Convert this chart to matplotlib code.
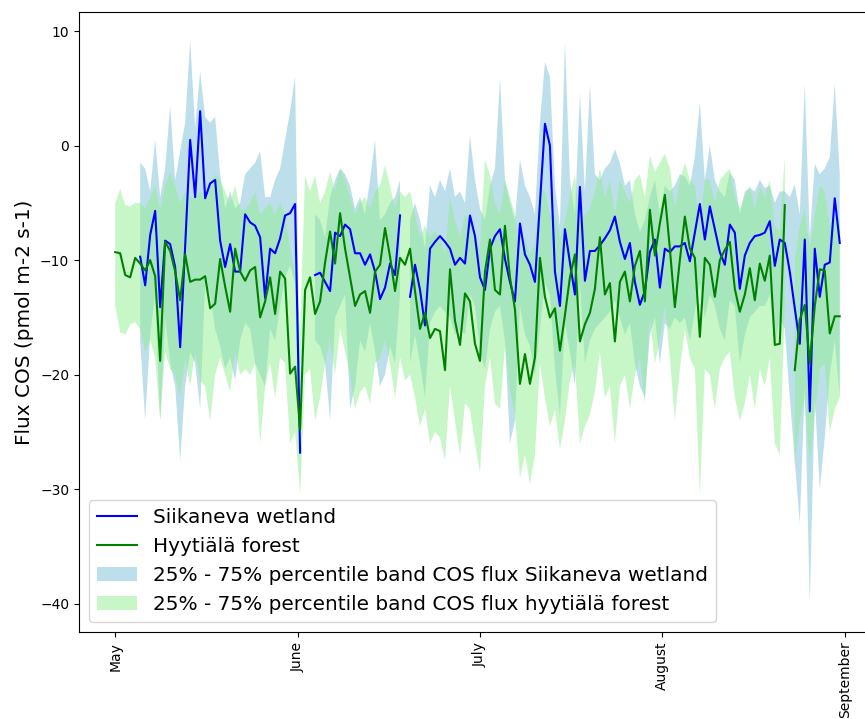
import numpy as np
import matplotlib
matplotlib.use("Agg")
import matplotlib.pyplot as plt

nan = np.nan

# Daily median COS flux (pmol m-2 s-1), Siikaneva wetland
siikaneva = [
    nan, nan, nan, nan, nan, -9.7, -12.2, -7.8, -5.7, -14.1,
    -8.3, -8.6, -10.6, -17.6, -8.8, 0.5, -4.5, 3.0, -4.6, -3.3,
    -3.0, -8.3, -10.6, -8.6, -11.0, -11.0, -6.0, -6.7, -7.0, -8.0,
    -13.3, -9.0, -9.4, -8.1, -6.1, -5.9, -5.1, -26.8, nan, nan,
    -11.3, -11.1, -11.9, -12.7, -7.6, -7.9, -6.9, -7.3, -9.4, -9.4,
    -10.4, -9.5, -11.0, -13.4, -12.4, -10.3, -11.3, -6.1, nan, -13.2,
    -10.4, -12.6, -15.7, -9.0, -8.4, -7.9, -8.4, -9.0, -10.4, -9.8,
    -10.3, -6.1, -7.9, -11.5, -12.6, -9.0, -7.9, -7.3, -9.9, -11.9,
    -13.6, -6.8, -9.5, -10.4, -11.9, -5.0, 1.9, 0.0, -11.0, -14.0,
    -7.3, -10.2, -13.0, -3.6, -11.8, -9.2, -9.2, -8.7, -8.1, -7.4,
    -6.2, -8.4, -9.9, -8.5, -11.9, -13.9, -12.7, -9.3, -8.2, -12.4,
    -9.0, -9.3, -8.8, -8.8, -8.5, -10.1, -7.6, -5.1, -8.2, -5.3,
    -7.3, -9.3, -10.4, -6.9, -7.6, -12.5, -9.6, -8.5, -7.9, -7.8,
    -7.6, -6.6, -10.5, -8.2, -8.5, -11.0, -14.2, -17.3, -8.2, -23.2,
    -9.0, -13.2, -10.4, -10.2, -4.6, -8.5,
]
siikaneva_q75 = [
    nan, nan, nan, nan, nan, -1.5, -2.0, -4.0, 0.5, -4.5,
    -2.0, 3.5, -3.0, -0.5, 2.0, 9.2, 1.5, 6.5, 2.5, 2.0,
    2.5, -2.5, -5.5, -4.0, -5.5, -5.0, -2.5, -2.0, -1.5, -0.5,
    -4.5, -4.5, -3.0, -2.0, 0.5, 3.0, 6.0, -22.0, nan, nan,
    -6.0, -6.5, -8.0, -4.5, -3.0, -2.0, -2.5, -3.5, -5.5, -4.5,
    -6.0, -3.0, 0.5, -6.5, -6.0, -5.0, -4.5, -3.0, nan, -6.5,
    -5.0, -6.5, -9.0, -3.5, -4.5, -3.0, -4.0, -2.0, -4.5, -4.0,
    -5.0, 0.9, -3.0, -5.5, -6.5, -3.5, -2.0, 5.9, -3.0, -5.0,
    -6.5, -1.2, -3.5, -4.5, -6.0, 2.0, 7.3, 6.0, -3.5, -7.0,
    9.1, -3.0, -6.0, 4.6, -4.0, 5.3, -2.5, -3.0, -2.0, -1.5,
    -0.3, -1.5, -3.5, -3.0, -6.0, -7.5, -6.5, -4.5, -3.0, -6.0,
    -3.5, -4.0, -3.5, -2.5, -2.7, -3.5, -1.0, 3.8, -3.0, 0.0,
    -3.0, -4.0, -4.5, -2.3, -3.0, -6.0, -4.0, -3.7, -4.0, -3.0,
    -3.7, -3.5, -5.0, -4.0, -4.0, -4.5, -3.4, -6.0, 5.4, -8.0,
    -1.6, -2.5, -2.0, -1.0, 5.4, -2.5,
]
siikaneva_q25 = [
    nan, nan, nan, nan, nan, -17.0, -24.0, -16.5, -13.0, -24.0,
    -15.0, -19.0, -21.0, -27.5, -21.0, -18.0, -19.0, -23.0, -12.0, -13.0,
    -16.0, -17.5, -19.5, -18.5, -20.5, -17.0, -15.5, -16.0, -19.0, -20.0,
    -21.0, -16.0, -17.0, -14.0, -11.5, -10.5, -12.0, -29.0, nan, nan,
    -17.0, -17.5, -19.0, -24.0, -15.0, -14.0, -13.0, -23.0, -21.0, -17.0,
    -18.0, -15.5, -18.0, -21.0, -20.0, -17.5, -19.0, -13.0, nan, -19.0,
    -16.5, -19.0, -22.0, -15.5, -14.5, -14.0, -14.5, -15.0, -16.5, -16.0,
    -16.5, -13.0, -14.0, -18.0, -19.5, -16.0, -14.5, -14.0, -17.0, -26.0,
    -24.0, -14.0, -16.5, -17.5, -20.0, -16.0, -12.0, -13.0, -19.5, -23.5,
    -15.5, -18.0, -21.0, -12.0, -19.0, -17.0, -16.0, -15.5, -15.0, -14.5,
    -13.5, -15.0, -16.5, -15.5, -19.0, -21.0, -22.0, -16.5, -15.0, -19.0,
    -15.5, -16.0, -15.0, -15.5, -15.0, -17.0, -14.5, -12.0, -15.0, -13.0,
    -14.0, -16.0, -17.0, -13.5, -14.0, -19.0, -16.5, -15.0, -14.5, -14.0,
    -14.0, -13.0, -17.5, -15.0, -16.0, -22.0, -27.5, -33.0, -21.0, -40.0,
    -22.0, -30.0, -25.5, -20.0, -17.0, -22.0,
]

# Daily median COS flux (pmol m-2 s-1), Hyytiälä forest
hyytiala = [
    -9.3, -9.4, -11.3, -11.5, -9.8, -10.3, -10.9, -10.0, -11.4, -18.8,
    -8.4, -9.2, -11.0, -13.5, -9.5, -11.9, -11.7, -11.7, -11.4, -14.2,
    -13.8, -9.9, -12.3, -14.5, -9.0, -11.0, -11.8, -10.9, -10.6, -15.0,
    -13.6, -11.5, -14.7, -11.0, -11.6, -19.9, -19.3, -24.8, -12.6, -11.5,
    -14.7, -13.6, -10.2, -7.5, -10.3, -5.9, -9.0, -11.5, -14.0, -13.0,
    -12.7, -14.6, -11.0, -10.4, -7.2, -9.7, -12.7, -9.8, -10.4, -9.0,
    -12.7, -16.0, -14.6, -16.8, -16.0, -16.2, -19.6, -10.8, -15.3, -17.4,
    -12.9, -13.6, -17.3, -18.8, -11.0, -8.2, -12.6, -13.0, -7.0, -11.5,
    -14.3, -20.8, -18.2, -20.8, -18.5, -9.8, -13.2, -15.0, -14.2, -17.9,
    -14.8, -11.5, -9.5, -17.1, -15.6, -14.6, -12.5, -8.0, -13.0, -12.0,
    -17.1, -11.9, -11.0, -13.6, -10.5, -9.2, -13.6, -5.6, -9.6, -6.8,
    -4.3, -9.0, -14.1, -10.0, -6.2, -9.0, -9.8, -16.7, -9.8, -10.4,
    -13.2, -10.0, -9.1, -8.4, -12.5, -14.5, -13.0, -10.7, -13.5, -10.3,
    -11.8, -9.6, -17.4, -17.3, -5.2, nan, -19.6, -15.2, -13.9, -19.0,
    -14.0, -10.8, -10.9, -16.4, -14.9, -14.9,
]
hyytiala_q75 = [
    -5.0, -3.8, -5.2, -5.3, -5.0, -5.0, -5.5, -4.5, -3.5, -5.5,
    -3.5, -2.3, -3.5, -5.0, -4.0, -4.5, -4.5, -4.0, -4.5, -3.5,
    -2.5, -3.0, -4.0, -5.0, -3.5, -5.5, -5.6, -5.0, -4.0, -6.0,
    -5.5, -5.0, -6.0, -5.0, -6.0, -9.0, -11.0, -16.0, -2.6, -4.0,
    -2.6, -5.0, -4.0, -2.3, -4.0, -2.0, -3.0, -4.5, -6.0, -5.0,
    -4.5, -5.5, -4.0, -3.5, -1.7, -3.5, -5.5, -4.0, -4.5, -4.0,
    -6.0, -8.0, -7.0, -8.0, -7.5, -8.0, -9.5, -4.5, -6.5, -8.0,
    -6.0, -6.5, -8.0, -9.0, -1.2, -2.6, -5.0, -6.0, -3.0, -4.5,
    -6.0, -9.5, -8.0, -9.5, -8.5, -3.5, -4.0, -6.0, -6.0, -8.0,
    -6.5, -4.5, -2.5, -7.0, -6.0, -5.5, -4.0, -2.0, -4.5, -3.0,
    -6.0, -3.0, -4.0, -5.0, -3.0, -2.5, -4.5, -0.9, -2.3, -1.5,
    -0.7, -2.0, -5.5, -3.0, -1.5, -3.0, -3.5, -7.0, -3.0, -3.0,
    -5.0, -3.0, -2.5, -2.0, -4.5, -5.5, -4.5, -3.5, -5.5, -3.5,
    -4.5, -3.0, -7.0, -7.5, -1.0, nan, -10.0, -7.0, -5.5, -9.0,
    -6.0, -3.5, -4.0, -7.0, -6.0, -6.5,
]
hyytiala_q25 = [
    -14.0, -16.3, -16.5, -15.6, -15.4, -16.0, -18.0, -17.0, -18.5, -24.0,
    -18.0, -19.5, -20.0, -22.0, -18.5, -21.0, -18.0, -20.5, -21.0, -24.0,
    -20.0, -18.5, -20.0, -21.5, -18.0, -20.0, -19.5, -20.0, -19.0, -26.0,
    -21.0, -19.0, -22.0, -18.5, -19.0, -26.0, -25.0, -30.5, -20.0, -19.5,
    -24.0, -22.0, -19.0, -17.0, -20.0, -16.0, -18.0, -20.0, -23.0, -21.5,
    -21.0, -22.5, -19.0, -18.5, -17.0, -19.0, -22.0, -18.5, -20.5, -20.0,
    -22.0, -24.5, -23.0, -26.0, -25.0, -25.5, -27.5, -21.0, -24.0, -27.0,
    -22.5, -23.0, -26.0, -28.5, -21.0, -18.5, -22.5, -23.0, -17.5, -21.5,
    -23.5, -29.0, -27.0, -29.5, -27.0, -19.0, -22.0, -24.5, -23.0, -26.5,
    -24.0, -20.5, -19.0, -26.0, -24.5, -23.5, -21.5, -18.0, -22.0, -21.0,
    -26.0, -21.0, -20.0, -23.0, -20.0, -18.5, -22.5, -15.0, -19.0, -17.0,
    -14.0, -18.5, -24.0, -19.5, -16.0, -18.5, -19.5, -30.5, -19.5, -20.0,
    -23.0, -19.5, -18.5, -18.0, -22.0, -24.0, -22.5, -20.0, -23.0, -19.5,
    -21.0, -18.5, -26.0, -27.0, -14.0, nan, -28.0, -24.0, -22.0, -28.0,
    -23.5, -19.5, -19.0, -25.0, -23.0, -22.0,
]

month_labels = ["May", "June", "July", "August", "September"]

step = np.arange(len(siikaneva))

fig = plt.figure(figsize=(8.65, 7.19), dpi=100)
ax = fig.add_axes([0.0913, 0.121, 0.9214, 0.8623])

ax.plot(step, siikaneva, color="blue", lw=1.5, label="Siikaneva wetland")
ax.plot(step, hyytiala, color="green", lw=1.5, label="Hyytiälä forest")
ax.fill_between(step, siikaneva_q25, siikaneva_q75, color="lightblue", alpha=0.8,
                lw=0, label="25% - 75% percentile band COS flux Siikaneva wetland")
ax.fill_between(step, hyytiala_q25, hyytiala_q75, color="lightgreen", alpha=0.5,
                lw=0, label="25% - 75% percentile band COS flux hyytiälä forest")

ax.set_xticks(np.linspace(0, len(step), len(month_labels)))
ax.set_xticklabels(month_labels, rotation=90)
ax.set_yticks([-40, -30, -20, -10, 0, 10])
ax.set_ylabel("Flux COS (pmol m-2 s-1)", fontsize="x-large")
ax.legend(loc="lower left", fontsize="x-large")

fig.savefig("out.png", dpi=100)
